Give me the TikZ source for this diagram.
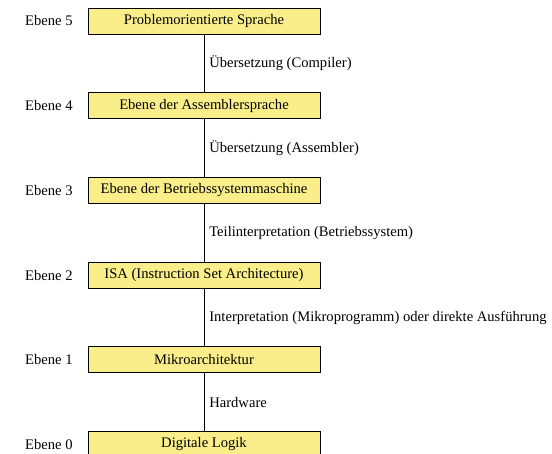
\documentclass[tikz,border=0pt]{standalone}
\usepackage{fontspec}
\setmainfont{Liberation Serif}
\definecolor{boxyellow}{HTML}{F9EE8A}
\begin{document}
\begin{tikzpicture}[x=1pt,y=1pt,
  every node/.style={font=\fontsize{14.6}{16}\selectfont, inner sep=0pt},
  levelbox/.style={draw=black, line width=0.8pt, fill=boxyellow, minimum width=232pt, minimum height=26pt, anchor=center},
  levellabel/.style={anchor=west},
  link/.style={draw=black, line width=0.6pt}]
\useasboundingbox (0,0) rectangle (552,-454);
\clip (0,0) rectangle (552,-454);
\node[levelbox] (b5) at (204,-21) {Problemorientierte Sprache};
\node[levelbox] (b4) at (204,-105.7) {Ebene der Assemblersprache};
\node[levelbox] (b3) at (204,-190.4) {Ebene der Betriebssystemmaschine};
\node[levelbox] (b2) at (204,-275.1) {ISA (Instruction Set Architecture)};
\node[levelbox] (b1) at (204,-359.8) {Mikroarchitektur};
\node[levelbox] (b0) at (204,-444.5) {Digitale Logik};
\node[levellabel] (e5) at (25,-21) {Ebene 5};
\node[levellabel] (e4) at (25,-105.7) {Ebene 4};
\node[levellabel] (e3) at (25,-190.4) {Ebene 3};
\node[levellabel] (e2) at (25,-275.1) {Ebene 2};
\node[levellabel] (e1) at (25,-359.8) {Ebene 1};
\node[levellabel] (e0) at (25,-444.5) {Ebene 0};
\draw[link] (b5) -- (b4) node[midway, right=5pt] (t54) {Übersetzung (Compiler)};
\draw[link] (b4) -- (b3) node[midway, right=5pt] (t43) {Übersetzung (Assembler)};
\draw[link] (b3) -- (b2) node[midway, right=5pt] (t32) {Teilinterpretation (Betriebssystem)};
\draw[link] (b2) -- (b1) node[midway, right=5pt] (t21) {Interpretation (Mikroprogramm) oder direkte Ausführung};
\draw[link] (b1) -- (b0) node[midway, right=5pt] (t10) {Hardware};
\end{tikzpicture}
\end{document}
